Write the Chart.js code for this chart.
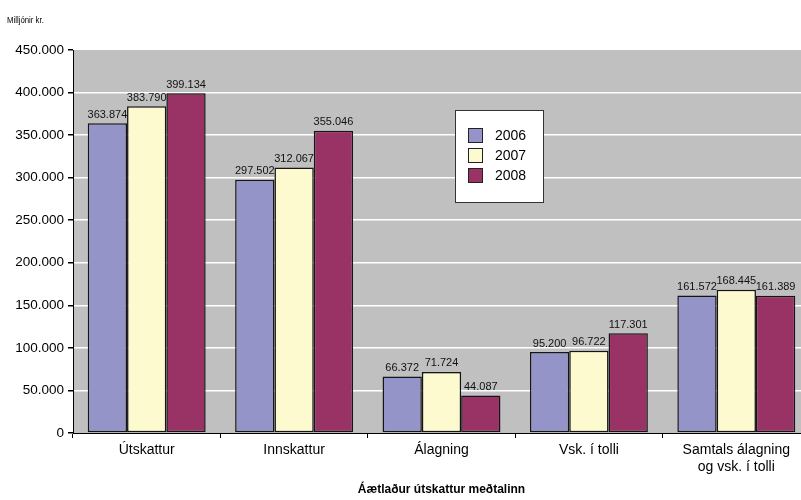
<!DOCTYPE html>
<html>
<head>
<meta charset="utf-8">
<script src="https://cdn.jsdelivr.net/npm/chart.js@4/dist/chart.umd.min.js"></script>
<style>
  html, body { margin: 0; padding: 0; background: #fff; overflow: hidden; }
  #wrap { width: 812px; height: 500px; position: relative; }
</style>
</head>
<body>
<div id="wrap"><canvas id="c" width="812" height="500"></canvas></div>
<script>
// Flokkar á x-ás
const categories = ['Útskattur', 'Innskattur', 'Álagning', 'Vsk. í tolli', ['Samtals álagning', 'og vsk. í tolli']];
// Ár í skýringu
const years = ['2006', '2007', '2008'];
// Fjárhæðir í milljónum kr.
const values2006 = [363874, 297502, 66372, 95200, 161572];
const values2007 = [383790, 312067, 71724, 96722, 168445];
const values2008 = [399134, 355046, 44087, 117301, 161389];
// Kvarði y-áss
const yMax = 450000;
const yStep = 50000;

const colors = ['#9494C8', '#FCFACE', '#993366'];
const FONT = "'Liberation Sans', Arial, Helvetica, sans-serif";

function fmt(v) {
  return String(Math.round(v)).replace(/\B(?=(\d{3})+(?!\d))/g, '.');
}

// Grár bakgrunnur teiknisvæðis
const plotBackground = {
  id: 'plotBackground',
  beforeDraw(chart) {
    const { ctx, chartArea: a } = chart;
    ctx.save();
    ctx.fillStyle = '#C0C0C0';
    ctx.fillRect(a.left, a.top, a.right - a.left, a.bottom - a.top);
    ctx.restore();
  }
};

// Tölugildi fyrir ofan hverja súlu
const barValues = {
  id: 'barValues',
  afterDatasetsDraw(chart) {
    const { ctx } = chart;
    ctx.save();
    ctx.font = '11px ' + FONT;
    ctx.fillStyle = '#111';
    ctx.textAlign = 'center';
    ctx.textBaseline = 'bottom';
    chart.data.datasets.forEach((ds, i) => {
      chart.getDatasetMeta(i).data.forEach((bar, j) => {
        ctx.fillText(fmt(ds.data[j]), bar.x, bar.y - 3);
      });
    });
    ctx.restore();
  }
};

// Eining y-áss og skýring innan teiknisvæðis
const extras = {
  id: 'extras',
  afterDraw(chart) {
    const { ctx } = chart;
    ctx.save();
    ctx.font = '9.5px ' + FONT;
    ctx.fillStyle = '#000';
    ctx.textBaseline = 'alphabetic';
    ctx.textAlign = 'left';
    ctx.save();
    ctx.translate(7, 23);
    ctx.scale(0.82, 1);
    ctx.fillText('Milljónir kr.', 0, 0);
    ctx.restore();

    // skýring
    const bx = 455, by = 110, bw = 88, bh = 92;
    ctx.fillStyle = '#fff';
    ctx.fillRect(bx, by, bw, bh);
    ctx.strokeStyle = '#333';
    ctx.lineWidth = 1;
    ctx.strokeRect(bx + 0.5, by + 0.5, bw, bh);
    ctx.font = '14px ' + FONT;
    ctx.textBaseline = 'middle';
    chart.data.datasets.forEach((ds, i) => {
      const sy = by + 18 + i * 20;
      ctx.fillStyle = ds.backgroundColor;
      ctx.fillRect(bx + 13, sy, 15, 15);
      ctx.strokeStyle = '#222';
      ctx.strokeRect(bx + 13.5, sy + 0.5, 14, 14);
      ctx.fillStyle = '#000';
      ctx.fillText(ds.label, bx + 40, sy + 8);
    });
    ctx.restore();
  }
};

new Chart(document.getElementById('c'), {
  type: 'bar',
  data: {
    labels: categories,
    datasets: [
      { label: years[0], data: values2006, backgroundColor: colors[0] },
      { label: years[1], data: values2007, backgroundColor: colors[1] },
      { label: years[2], data: values2008, backgroundColor: colors[2] }
    ].map(d => Object.assign(d, {
      borderColor: '#151515', borderWidth: 1.5, borderSkipped: false,
      categoryPercentage: 0.8, barPercentage: 1.0
    }))
  },
  options: {
    responsive: false,
    animation: false,
    layout: { padding: { top: 50, right: 2, left: 0, bottom: 0 } },
    plugins: {
      legend: { display: false },
      tooltip: { enabled: false },
      title: { display: false }
    },
    scales: {
      x: {
        afterFit(scale) { scale.height = 67; },
        grid: {
          display: true, drawOnChartArea: false, offset: true,
          tickColor: '#000', tickLength: 5, lineWidth: 1
        },
        border: { color: '#000', width: 1 },
        ticks: { color: '#000', font: { family: FONT, size: 14 }, padding: 4 },
        title: {
          display: true, text: 'Áætlaður útskattur meðtalinn', color: '#000',
          font: { family: FONT, size: 12, weight: 'bold' }, padding: { top: 4, bottom: 3 }
        }
      },
      y: {
        min: 0, max: yMax,
        afterFit(scale) { scale.width = 73; },
        grid: {
          color: ctx => (ctx.tick && (ctx.tick.value === yMax || ctx.tick.value === 0)) ? 'rgba(0,0,0,0)' : '#FFFFFF',
          tickColor: '#000', tickLength: 5, lineWidth: 1.5
        },
        border: { color: '#000', width: 1 },
        ticks: {
          stepSize: yStep, color: '#000', padding: 4,
          font: { family: FONT, size: 13.5 },
          callback: v => fmt(v)
        }
      }
    }
  },
  plugins: [plotBackground, barValues, extras]
});
</script>
</body>
</html>
